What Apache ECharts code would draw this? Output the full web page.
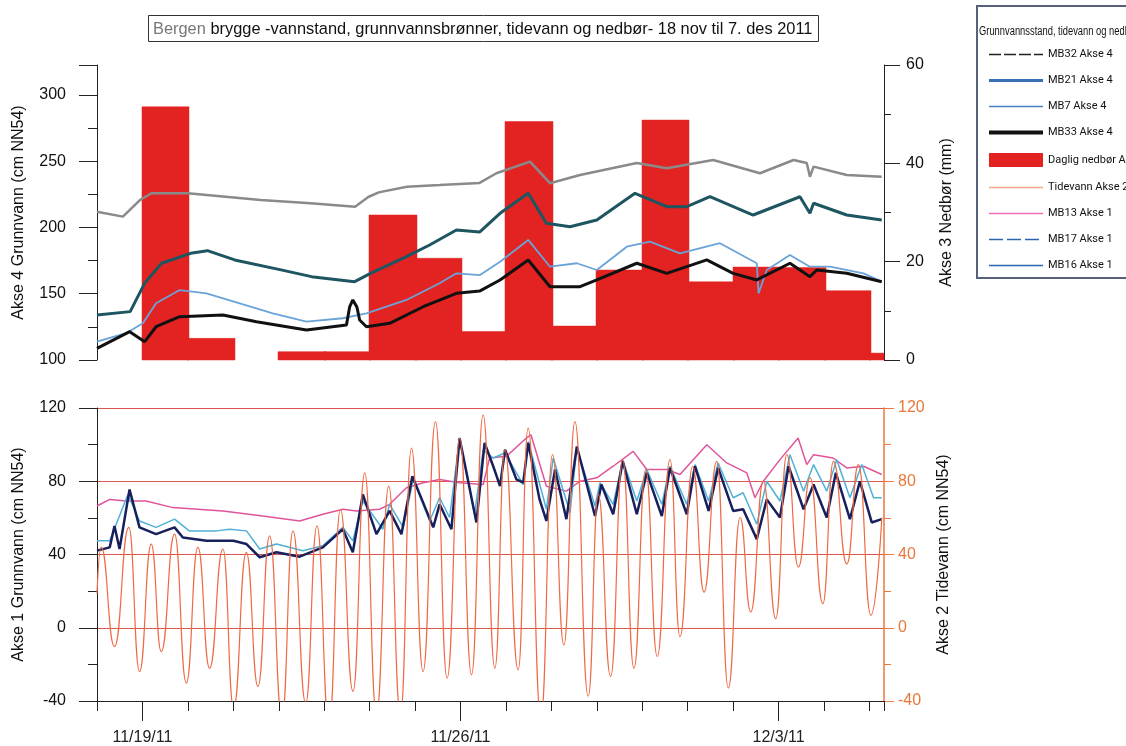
<!DOCTYPE html>
<html>
<head>
<meta charset="utf-8">
<title>Bergen brygge</title>
<script src="https://cdn.jsdelivr.net/npm/echarts@6/dist/echarts.min.js"></script>
<style>
  html, body { margin: 0; padding: 0; background: #fff; }
  #chart { width: 1126px; height: 746px; }
</style>
</head>
<body>
<div id="chart"></div>
<script>
// x = days since 18 Nov 2011 00:00
const xLabelDays = [1, 8, 15];
const xLabels = ['11/19/11', '11/26/11', '12/3/11'];

// daily precipitation (mm), one value per day from 18 Nov
const rainMm = [0, 51.5, 4.4, 0, 1.7, 1.7, 29.5, 20.7, 5.8, 48.5, 6.9, 18.3, 48.8, 15.9, 18.9, 18.8, 14.1, 1.4];

// Akse 4 (top panel)
const mb32 = [[0, 211.9], [0.57, 208.2], [0.95, 220.8], [1.2, 225.8], [2.0, 225.8], [3.6, 220.8], [4.7, 218.3],
  [5.68, 215.7], [5.97, 223], [6.2, 226.5], [6.82, 230.8], [7.54, 232], [8.42, 233.6], [8.79, 240.9], [9.53, 249.7],
  [9.97, 233.4], [10.63, 239.6], [11.88, 248.7], [12.54, 244.7], [13.56, 250.9], [14.59, 240.9], [15.33, 250.9],
  [15.62, 248.7], [15.69, 238.3], [15.77, 245.9], [16.5, 239.6], [17.27, 238.3]];
const mb21 = [[0, 134], [0.73, 136.5], [1.05, 158], [1.42, 173], [2.06, 180.5], [2.43, 182.5], [3.03, 175.5],
  [4.05, 168], [4.72, 162.9], [5.67, 159.1], [6.02, 165.4], [6.81, 178], [7.32, 186.8], [7.91, 198.1],
  [8.42, 196.5], [8.87, 210.7], [9.49, 225.8], [9.89, 203.2], [10.41, 200.6], [11.0, 205.7], [11.84, 225.8],
  [12.54, 215.7], [12.98, 215.7], [13.49, 223.2], [14.44, 209.4], [15.47, 223.2], [15.69, 210.7], [15.77, 218.3],
  [16.5, 209.4], [17.27, 205.7]];
const mb7 = [[0, 113.8], [0.64, 120.2], [1.01, 127.7], [1.30, 142.8], [1.82, 152.8], [2.41, 150.3], [3.14, 142.8],
  [3.87, 135.2], [4.61, 128.9], [5.41, 131.5], [5.93, 135.2], [6.81, 145.3], [7.54, 157.9], [7.91, 165.4],
  [8.42, 164], [8.87, 174.2], [9.49, 190.6], [9.97, 170.4], [10.56, 173], [11.0, 167.9], [11.66, 185.5],
  [12.17, 189.3], [12.83, 180.5], [13.71, 188.1], [14.52, 173], [14.56, 150.3], [14.74, 167.9], [15.25, 179.2],
  [15.69, 170.4], [16.13, 170.4], [16.87, 165.4], [17.27, 159.1]];
const mb33 = [[0, 108.8], [0.72, 121.4], [1.05, 113.8], [1.30, 125.1], [1.82, 132.7], [2.77, 134], [3.51, 128.9],
  [4.61, 122.6], [5.49, 126.4], [5.56, 140], [5.63, 145.3], [5.72, 140], [5.78, 130.2], [5.93, 125.1], [6.44, 127.7],
  [7.18, 140.2], [7.91, 150.3], [8.42, 152], [8.87, 160.4], [9.49, 175.5], [9.97, 155.3], [10.63, 155.3],
  [11.0, 160.4], [11.88, 173], [12.54, 165.4], [13.42, 175.5], [14.0, 165.4], [14.52, 160.4], [15.25, 173],
  [15.69, 162.9], [15.84, 167.9], [16.5, 165.4], [17.27, 159.1]];

// Akse 2 (tide)
const tide = [[0, 18.6], [0.09, 44.1], [0.385, -10.3], [0.70, 54.8], [0.936, -23.9], [1.194, 45.7], [1.414, -13.0],
  [1.707, 51.1], [1.965, -30.2], [2.220, 43.9], [2.478, -22.1], [2.771, 43.0], [3.007, -43.8], [3.286, 41.2],
  [3.542, -32.0], [3.800, 50.2], [4.070, -49.2], [4.313, 52.9], [4.593, -41.1], [4.841, 55.6], [5.106, -53.7],
  [5.357, 64.7], [5.634, -34.7], [5.892, 84.6], [6.150, -47.4], [6.421, 77.3], [6.678, -47.4], [6.921, 98.1],
  [7.176, -23.9], [7.449, 112.6], [7.705, -27.5], [7.985, 103.6], [8.242, -25.7], [8.498, 116.2], [8.756, -22.1],
  [8.976, 97.2], [9.269, -23.0], [9.489, 109.0], [9.769, -49.2], [10.026, 94.5], [10.275, -9.4], [10.518, 112.6],
  [10.811, -37.4], [11.031, 72.8], [11.304, -26.6], [11.568, 91.8], [11.817, -22.1], [12.075, 86.4], [12.330, -15.7],
  [12.610, 91.8], [12.830, -4.9], [13.110, 88.2], [13.359, 19.5], [13.639, 90.9], [13.894, -32.9], [14.152, 60.2],
  [14.388, 8.7], [14.665, 80.0], [14.938, 5.0], [15.181, 94.5], [15.436, 33.1], [15.694, 81.9], [15.974, 13.2],
  [16.207, 90.9], [16.502, 34.9], [16.758, 89.1], [17.031, 6.8], [17.273, 60.2]];

// Akse 1 (bottom panel groundwater)
const mb13 = [[0, 66.5], [0.28, 70.1], [0.64, 69.2], [1.08, 69.2], [1.67, 65.6], [2.77, 63.8], [3.65, 61.0],
  [4.46, 58.3], [4.97, 62.0], [5.41, 64.7], [5.71, 63.8], [6.22, 64.7], [6.44, 67.4], [6.81, 76.5], [7.18, 79.2],
  [7.54, 81.0], [7.98, 79.2], [8.5, 78.2], [8.64, 92.7], [9.01, 93.6], [9.45, 103.6], [9.55, 105.4], [9.89, 77.3],
  [10.33, 74.6], [10.63, 80.0], [11.0, 81.9], [11.36, 88.2], [11.80, 96.3], [12.1, 86.4], [12.54, 86.4],
  [12.83, 83.7], [13.42, 99.9], [13.86, 90.0], [14.3, 84.6], [14.48, 71.0], [14.665, 80.0], [15.03, 91.8],
  [15.43, 103.6], [15.62, 89.1], [15.77, 94.5], [16.2, 92.7], [16.5, 87.3], [16.87, 88.2], [17.27, 83.7]];
const mb17 = [[0, 47.5], [0.28, 47.5], [0.68, 72.8], [0.936, 58.3], [1.30, 54.8], [1.707, 59.3], [2.03, 52.9],
  [2.63, 52.9], [2.92, 53.8], [3.29, 52.9], [3.58, 43.0], [3.95, 45.7], [4.53, 42.1], [4.97, 44.8], [5.41, 54.8],
  [5.63, 47.5], [5.85, 69.2], [6.29, 53.8], [6.44, 67.4], [6.74, 54.8], [6.96, 81.0], [7.32, 58.3], [7.54, 71.0],
  [7.76, 60.2], [7.98, 103.6], [8.31, 62.0], [8.50, 97.2], [8.72, 92.7], [8.98, 95.4], [9.38, 78.2], [9.49, 101.7],
  [9.89, 64.7], [10.04, 92.7], [10.41, 62.9], [10.56, 98.1], [10.96, 66.5], [11.07, 79.2], [11.36, 67.4],
  [11.57, 91.8], [11.88, 69.2], [12.1, 86.4], [12.43, 67.4], [12.61, 88.2], [12.98, 67.4], [13.16, 89.1],
  [13.46, 69.2], [13.67, 90.0], [14.0, 71.0], [14.22, 73.7], [14.52, 56.6], [14.74, 80.0], [15.03, 69.2],
  [15.25, 94.5], [15.55, 74.6], [15.77, 89.1], [16.06, 74.6], [16.28, 91.8], [16.57, 71.0], [16.83, 89.1],
  [17.09, 71.0], [17.27, 71.0]];
const mb16 = [[0, 42.1], [0.28, 43.9], [0.385, 55.6], [0.496, 43.0], [0.716, 75.5], [0.936, 54.8], [1.30, 51.1],
  [1.707, 54.8], [1.89, 49.3], [2.41, 47.5], [3.0, 47.5], [3.29, 45.7], [3.58, 38.5], [3.95, 41.2], [4.46, 38.8],
  [4.97, 43.9], [5.41, 53.8], [5.63, 41.2], [5.85, 72.8], [6.15, 51.1], [6.44, 63.8], [6.70, 51.1], [6.94, 82.7],
  [7.40, 54.8], [7.54, 67.4], [7.80, 53.8], [7.98, 103.6], [8.35, 57.5], [8.53, 100.9], [8.72, 88.2], [8.87, 77.3],
  [8.98, 97.2], [9.23, 81.0], [9.38, 79.2], [9.49, 100.9], [9.74, 70.1], [9.89, 58.3], [10.08, 86.4], [10.33, 59.3],
  [10.56, 99.0], [10.96, 61.0], [11.1, 78.2], [11.36, 62.0], [11.57, 90.9], [11.88, 62.0], [12.1, 84.6],
  [12.43, 61.0], [12.61, 87.3], [12.98, 62.0], [13.16, 88.2], [13.46, 63.8], [13.67, 87.3], [14.0, 63.8],
  [14.22, 64.7], [14.52, 48.4], [14.74, 70.1], [15.03, 60.2], [15.22, 88.2], [15.55, 64.7], [15.77, 78.2],
  [16.06, 60.2], [16.26, 84.6], [16.57, 59.3], [16.79, 80.0], [17.05, 57.5], [17.27, 59.3]];

const xMax = 17.32;
const font = "'Liberation Sans', Arial, sans-serif";
const narrow = "Roboto, 'Liberation Sans Narrow', sans-serif";
const orange = '#e8783c';
const red = '#e32322';

const chart = echarts.init(document.getElementById('chart'));

function yAxisBase(extra) {
  return Object.assign({
    type: 'value',
    nameLocation: 'middle',
    nameTextStyle: { fontSize: 16, fontFamily: font, color: '#111' },
    axisLine: { show: true, onZero: false, lineStyle: { color: '#222', width: 1 } },
    axisTick: { show: true, length: 18, lineStyle: { color: '#222' } },
    minorTick: { show: true, splitNumber: 2, length: 9, lineStyle: { color: '#222' } },
    axisLabel: { fontSize: 16, fontFamily: font, color: '#111', margin: 31 },
    splitLine: { show: false }
  }, extra);
}

const lineSeries = (name, data, color, width, x, y, extra) => Object.assign({
  name: name, type: 'line', data: data, xAxisIndex: x, yAxisIndex: y,
  symbol: 'none', lineStyle: { color: color, width: width }, itemStyle: { color: color }
}, extra || {});

const legendLine = (name, color, width, type) => ({
  name: name, itemStyle: { opacity: 0 }, lineStyle: { color: color, width: width, type: type || 'solid' }
});

// one bar per day, from the day's start to the next day's start, clipped to the plot
function renderRain(params, api) {
  const d = api.value(0), v = api.value(1);
  if (!v) return null;
  const p0 = api.coord([d, v]);
  const p1 = api.coord([d + 1, 0]);
  const cs = params.coordSys;
  const shape = echarts.graphic.clipRectByRect(
    { x: Math.floor(p0[0]), y: p0[1], width: Math.ceil(p1[0]) - Math.floor(p0[0]) + 1, height: p1[1] - p0[1] },
    { x: cs.x, y: cs.y, width: cs.width, height: cs.height }
  );
  return shape && { type: 'rect', shape: shape, style: { fill: red, stroke: red, lineWidth: 0.5 } };
}

chart.setOption({
  animation: false,
  backgroundColor: '#fff',
  title: {
    text: '{g|Bergen} brygge -vannstand, grunnvannsbrønner, tidevann og nedbør- 18 nov til 7. des 2011',
    left: 148, top: 15,
    padding: [6, 6, 5, 5],
    borderColor: '#333', borderWidth: 1,
    textStyle: {
      fontSize: 16.4, fontWeight: 'normal', fontFamily: font, color: '#111',
      rich: { g: { fontSize: 16.4, fontFamily: font, color: '#777' } }
    }
  },
  graphic: [
    { type: 'rect', shape: { x: 977, y: 6, width: 160, height: 272 },
      style: { fill: 'none', stroke: '#56627c', lineWidth: 2 }, z: 10 },
    { type: 'text', x: 979, y: 26, z: 10, scaleX: 0.78,
      style: { text: 'Grunnvannsstand, tidevann og nedbør', fontSize: 12, fontFamily: font, fill: '#111' } }
  ],
  legend: {
    orient: 'vertical', left: 982, top: 44,
    itemWidth: 54, itemHeight: 14, itemGap: 14.8,
    textStyle: { fontSize: 11, fontFamily: narrow, color: '#111' },
    data: [
      legendLine('MB32 Akse 4', '#222', 1.5, [12, 3]),
      legendLine('MB21 Akse 4', '#3b6fb6', 3),
      legendLine('MB7 Akse 4', '#4a7fc4', 1.5),
      legendLine('MB33 Akse 4', '#111', 4),
      { name: 'Daglig nedbør Akse 3', icon: 'rect', itemStyle: { color: red } },
      legendLine('Tidevann Akse 2', '#f4a58a', 1.5),
      legendLine('MB13 Akse 1', '#f06bb0', 1.5),
      legendLine('MB17 Akse 1', '#2d64b0', 1.5, [14, 4]),
      legendLine('MB16 Akse 1', '#2d64b0', 1.5)
    ]
  },
  grid: [
    { left: 97, right: 242, top: 65, height: 295 },
    { left: 97, right: 242, top: 408, height: 295 }
  ],
  xAxis: [
    { type: 'value', gridIndex: 0, min: 0, max: xMax, show: false },
    {
      type: 'value', gridIndex: 1, min: 0, max: xMax, interval: 1,
      axisLine: { show: true, onZero: false, lineStyle: { color: '#222' } },
      axisTick: { show: true, length: 10, lineStyle: { color: '#222' } },
      axisLabel: {
        fontSize: 16, fontFamily: font, color: '#222', margin: 29,
        formatter: v => { const i = xLabelDays.indexOf(Math.round(v * 100) / 100); return i >= 0 ? xLabels[i] : ''; }
      },
      splitLine: { show: false }
    },
    {
      type: 'value', gridIndex: 1, min: 0, max: xMax, position: 'bottom',
      axisLine: { show: false, onZero: false },
      axisTick: { show: true, length: 20, customValues: xLabelDays, lineStyle: { color: '#222' } },
      axisLabel: { show: false },
      splitLine: { show: false }
    }
  ],
  yAxis: [
    yAxisBase({
      gridIndex: 0, position: 'left', min: 100, max: 322.6, interval: 50,
      name: 'Akse 4 Grunnvann (cm NN54)', nameGap: 70,
      axisLabel: { fontSize: 16, fontFamily: font, color: '#111', margin: 31, showMaxLabel: false,
        formatter: v => (v <= 300 ? v : '') }
    }),
    yAxisBase({
      gridIndex: 0, position: 'right', min: 0, max: 60, interval: 20,
      name: 'Akse 3 Nedbør (mm)', nameGap: 55,
      axisTick: { show: true, length: 16, lineStyle: { color: '#222' } },
      minorTick: { show: true, splitNumber: 2, length: 7, lineStyle: { color: '#222' } },
      axisLabel: { fontSize: 16, fontFamily: font, color: '#111', margin: 22 }
    }),
    yAxisBase({
      gridIndex: 1, position: 'left', min: -40, max: 120, interval: 40,
      name: 'Akse 1 Grunnvann (cm NN54)', nameGap: 70
    }),
    yAxisBase({
      gridIndex: 1, position: 'right', min: -40, max: 120, interval: 40,
      name: 'Akse 2 Tidevann (cm NN54)', nameGap: 52,
      axisLine: { show: true, onZero: false, lineStyle: { color: orange, width: 1.5 } },
      axisTick: { show: true, length: 10, lineStyle: { color: orange } },
      minorTick: { show: true, splitNumber: 2, length: 7, lineStyle: { color: orange } },
      axisLabel: { fontSize: 16, fontFamily: font, color: orange, margin: 14 },
      splitLine: { show: true, lineStyle: { color: '#d9584e', width: 1.2 } }
    })
  ],
  series: [
    {
      name: 'Daglig nedbør Akse 3', type: 'custom', xAxisIndex: 0, yAxisIndex: 1,
      renderItem: renderRain, encode: { x: 0, y: 1 }, itemStyle: { color: red },
      data: rainMm.map((v, d) => [d, v])
    },
    lineSeries('MB32 Akse 4', mb32, '#8a8a8a', 2.5, 0, 0),
    lineSeries('MB21 Akse 4', mb21, '#1d5560', 3, 0, 0),
    lineSeries('MB7 Akse 4', mb7, '#6aa3d8', 1.8, 0, 0),
    lineSeries('MB33 Akse 4', mb33, '#111111', 3, 0, 0),
    lineSeries('MB13 Akse 1', mb13, '#e0559a', 1.5, 1, 2),
    lineSeries('MB17 Akse 1', mb17, '#4fb0d8', 1.5, 1, 2),
    lineSeries('MB16 Akse 1', mb16, '#17205c', 2.5, 1, 2),
    lineSeries('Tidevann Akse 2', tide, '#ee6a44', 1.2, 1, 3, { smooth: 0.5, smoothMonotone: 'x' })
  ]
});
</script>
</body>
</html>
